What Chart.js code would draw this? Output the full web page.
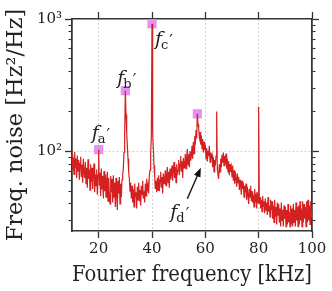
<!DOCTYPE html>
<html>
<head>
<meta charset="utf-8">
<script src="https://cdn.jsdelivr.net/npm/chart.js@4.4.0/dist/chart.umd.min.js"></script>
<style>
  html, body { margin: 0; padding: 0; background: #fff; }
  canvas { display: block; }
</style>
</head>
<body>
<canvas id="chart" width="332" height="291"></canvas>
<script>
  // ===== Data =====
  const FREQ_START = 10;   // kHz, first sample
  const FREQ_STEP = 0.25;  // kHz between samples

  // frequency noise [Hz^2/Hz], one row = 2.5 kHz
  const noise = [
     95,  72,  90,  67,  99,  75,  88,  63,  93,  71,   // 10.0
     86,  61,  81,  91,  64,  79,  58,  88,  69,  63,   // 12.5
     83,  57,  75,  53,  87,  62,  73,  51,  80,  59,   // 15.0
     75,  52,  69,  81,  49,  67,  55,  73,  47,  66,   // 17.5
    103,  55,  69,  46,  74,  52,  65,  44,  71,  50,   // 20.0
     67,  45,  61,  70,  42,  63,  48,  40,  65,  49,   // 22.5
     62,  41,  66,  45,  58,  38,  63,  47,  36,  60,   // 25.0
     48,  64,  40,  57,  45,  61,  66,  74,  98, 135,   // 27.5
    287, 190, 140, 110,  88,  70,  62,  50,  58,  44,   // 30.0
     55,  41,  52,  38,  57,  45,  49,  37,  54,  43,   // 32.5
     58,  42,  51,  39,  55,  47,  60,  44,  50,  41,   // 35.0
     57,  46,  62,  50,  55,  48,  66,  72,  95, 130,   // 37.5
    920, 140, 105,  78,  64,  52,  60,  49,  63,  51,   // 40.0
     66,  50,  61,  70,  53,  64,  48,  68,  57,  62,   // 42.5
     72,  55,  67,  76,  58,  70,  53,  74,  61,  66,   // 45.0
     78,  60,  73,  83,  63,  76,  58,  80,  68,  72,   // 47.5
     86,  66,  80,  92,  70,  84,  63,  89,  75,  79,   // 50.0
     96,  74,  90, 104,  79,  95,  76, 100,  85,  92,   // 52.5
    110,  88, 118,  96, 130, 112, 145, 125, 192, 160,   // 55.0
    150, 128, 140, 112, 132, 105, 124,  98, 118, 102,   // 57.5
    112,  88, 106,  84, 101,  92, 110,  83,  98,  90,   // 60.0
     94,  76,  90,  70,  86,  78,  92, 200,  74,  66,   // 62.5
     62,  80,  70,  88,  76,  94,  82,  98,  78,  92,   // 65.0
     85,  96,  74,  88,  70,  84,  66,  80,  70,  76,   // 67.5
     64,  78,  60,  72,  57,  70,  62,  54,  68,  58,   // 70.0
     64,  51,  61,  55,  47,  60,  52,  58,  45,  55,   // 72.5
     49,  57,  43,  54,  47,  40,  52,  45,  55,  42,   // 75.0
     50,  41,  47,  38,  52,  43,  46,  37,  49,  41,   // 77.5
    217,  40,  45,  37,  43,  35,  46,  38,  42,  34,   // 80.0
     44,  36,  41,  33,  45,  35,  39,  32,  43,  36,   // 82.5
     42,  31,  39,  29,  43,  32,  38,  28,  41,  33,   // 85.0
     40,  29,  37,  27,  41,  30,  36,  27,  39,  31,   // 87.5
     38,  27,  36,  28,  40,  29,  35,  27,  39,  28,   // 90.0
     37,  27,  40,  29,  36,  27,  41,  30,  38,  27,   // 92.5
     39,  28,  42,  30,  37,  27,  42,  29,  40,  31,   // 95.0
     38,  27,  42,  29,  43,  30,  39,  28,  42,  32,   // 97.5
     35                                                 // 100.0
  ];
  const freq = noise.map((_, i) => FREQ_START + i * FREQ_STEP);

  const peakNames = ['a', 'b', 'c', 'd'];
  const peakFreq = [20, 30, 40, 57];
  const peakNoise = [103, 287, 920, 192];

  const xTicks = [20, 40, 60, 80, 100];
  const yMajorTicks = [100, 1000];
  const yMinorTicks = [30, 40, 50, 60, 70, 80, 90, 200, 300, 400, 500, 600, 700, 800, 900];
  const yTickLabels = { 100: '10²', 1000: '10³' };

  // ===== Style =====
  const SERIF = 'DejaVu Serif';
  const AXIS = '#333';
  const TEXT = '#222';
  const GRID = '#d2d2d2';
  const LINE_RED = 'rgb(212, 32, 32)';
  const MARKER = '#e690f0';

  // label placement relative to the marker (dx, dy of the "f" baseline start)
  const labelOffsets = [[-7, -11], [-8, -7], [3, 21], [-27, 104]];

  const setTicks = (values) => (scale) => { scale.ticks = values.map(v => ({ value: v })); };

  const peakLabels = {
    id: 'peakLabels',
    afterDatasetsDraw(chart) {
      const { ctx, scales: { x, y } } = chart;
      ctx.save();
      ctx.fillStyle = TEXT;
      ctx.textBaseline = 'alphabetic';
      ctx.textAlign = 'left';
      peakNames.forEach((name, i) => {
        const px = x.getPixelForValue(peakFreq[i]);
        const py = y.getPixelForValue(peakNoise[i]);
        const fx = px + labelOffsets[i][0];
        const fb = py + labelOffsets[i][1];
        ctx.font = `italic 19px "${SERIF}"`;
        ctx.fillText('f', fx, fb);
        const wf = ctx.measureText('f').width;
        ctx.font = `13px "${SERIF}"`;
        ctx.fillText(name, fx + wf - 1, fb + 4);
        const ws = ctx.measureText(name).width;
        ctx.font = `16px "${SERIF}"`;
        ctx.fillText('\u2032', fx + wf + ws, fb + 1);
      });

      // arrow pointing at the f_d' peak shoulder
      const px = x.getPixelForValue(peakFreq[3]);
      const py = y.getPixelForValue(peakNoise[3]);
      const tail = [px - 10, py + 85];
      const head = [px + 3.5, py + 54];
      const ang = Math.atan2(head[1] - tail[1], head[0] - tail[0]);
      ctx.strokeStyle = '#111';
      ctx.fillStyle = '#111';
      ctx.lineWidth = 1.4;
      ctx.beginPath();
      ctx.moveTo(tail[0], tail[1]);
      ctx.lineTo(head[0] - 6 * Math.cos(ang), head[1] - 6 * Math.sin(ang));
      ctx.stroke();
      ctx.beginPath();
      ctx.moveTo(head[0], head[1]);
      ctx.lineTo(head[0] - 9 * Math.cos(ang) + 3.5 * Math.sin(ang), head[1] - 9 * Math.sin(ang) - 3.5 * Math.cos(ang));
      ctx.lineTo(head[0] - 9 * Math.cos(ang) - 3.5 * Math.sin(ang), head[1] - 9 * Math.sin(ang) + 3.5 * Math.cos(ang));
      ctx.closePath();
      ctx.fill();
      ctx.restore();
    }
  };

  const tickFont = { family: SERIF, size: 15 };
  const titleFont = { family: SERIF, size: 22.5 };

  new Chart(document.getElementById('chart'), {
    type: 'line',
    data: {
      datasets: [
        {
          label: 'noise',
          data: freq.map((f, i) => ({ x: f, y: noise[i] })),
          borderColor: LINE_RED,
          borderWidth: 1.2,
          pointRadius: 0,
          tension: 0,
          order: 0
        },
        {
          label: 'peaks',
          data: peakFreq.map((f, i) => ({ x: f, y: peakNoise[i] })),
          showLine: false,
          pointStyle: 'rect',
          pointRadius: 6.5,
          pointBackgroundColor: MARKER,
          pointBorderWidth: 0,
          order: 1
        }
      ]
    },
    options: {
      responsive: false,
      devicePixelRatio: 1,
      animation: false,
      clip: false,
      layout: { padding: { left: 0, right: 20, top: 19, bottom: 0 } },
      plugins: { legend: { display: false }, tooltip: { enabled: false } },
      scales: {
        x: {
          type: 'linear', position: 'bottom', min: 10, max: 100, weight: 1,
          afterBuildTicks: setTicks(xTicks),
          afterFit: s => { s.height = 60; },
          grid: {
            color: c => (c.tick && c.tick.value < 100 ? GRID : 'rgba(0,0,0,0)'),
            tickColor: AXIS, tickLength: 7, tickWidth: 1.3
          },
          border: { color: AXIS, width: 1.5, dash: [2, 2] },
          ticks: { font: tickFont, color: TEXT, padding: 2, maxRotation: 0, autoSkip: false },
          title: { display: true, text: 'Fourier frequency [kHz]', font: titleFont, color: TEXT, padding: { top: 0, bottom: 2 } }
        },
        xTop: {
          type: 'linear', position: 'top', min: 10, max: 100, weight: 1,
          afterBuildTicks: setTicks(xTicks),
          afterFit: s => { s.height = 0; },
          grid: { drawOnChartArea: false, tickColor: AXIS, tickLength: 7, tickWidth: 1.3 },
          border: { color: AXIS, width: 1.5 },
          ticks: { display: false }
        },
        y: {
          type: 'logarithmic', position: 'left', min: 25, max: 1000, weight: 1,
          afterBuildTicks: setTicks(yMajorTicks),
          afterFit: s => { s.width = 72; },
          grid: {
            color: c => (c.tick && c.tick.value === 100 ? GRID : 'rgba(0,0,0,0)'),
            tickColor: AXIS, tickLength: 7, tickWidth: 1.3
          },
          border: { color: AXIS, width: 1.5, dash: [2, 2] },
          ticks: { font: tickFont, color: TEXT, padding: 3, callback: v => yTickLabels[v] || '' },
          title: { display: true, text: 'Freq. noise [Hz²/Hz]', font: titleFont, color: TEXT, padding: { top: 3, bottom: 0 } }
        },
        yMinor: {
          type: 'logarithmic', position: 'left', min: 25, max: 1000, weight: 0,
          afterBuildTicks: setTicks(yMinorTicks),
          afterFit: s => { s.width = 0; },
          grid: { drawOnChartArea: false, tickColor: AXIS, tickLength: 3.5, tickWidth: 1.1 },
          border: { color: AXIS, width: 1.5 },
          ticks: { display: false }
        },
        yRight: {
          type: 'logarithmic', position: 'right', min: 25, max: 1000, weight: 1,
          afterBuildTicks: setTicks(yMajorTicks),
          afterFit: s => { s.width = 0; },
          grid: { drawOnChartArea: false, tickColor: AXIS, tickLength: 7, tickWidth: 1.3 },
          border: { color: AXIS, width: 1.5 },
          ticks: { display: false }
        },
        yRightMinor: {
          type: 'logarithmic', position: 'right', min: 25, max: 1000, weight: 0,
          afterBuildTicks: setTicks(yMinorTicks),
          afterFit: s => { s.width = 0; },
          grid: { drawOnChartArea: false, tickColor: AXIS, tickLength: 3.5, tickWidth: 1.1 },
          border: { color: AXIS, width: 1.5 },
          ticks: { display: false }
        }
      }
    },
    plugins: [peakLabels]
  });
</script>
</body>
</html>
